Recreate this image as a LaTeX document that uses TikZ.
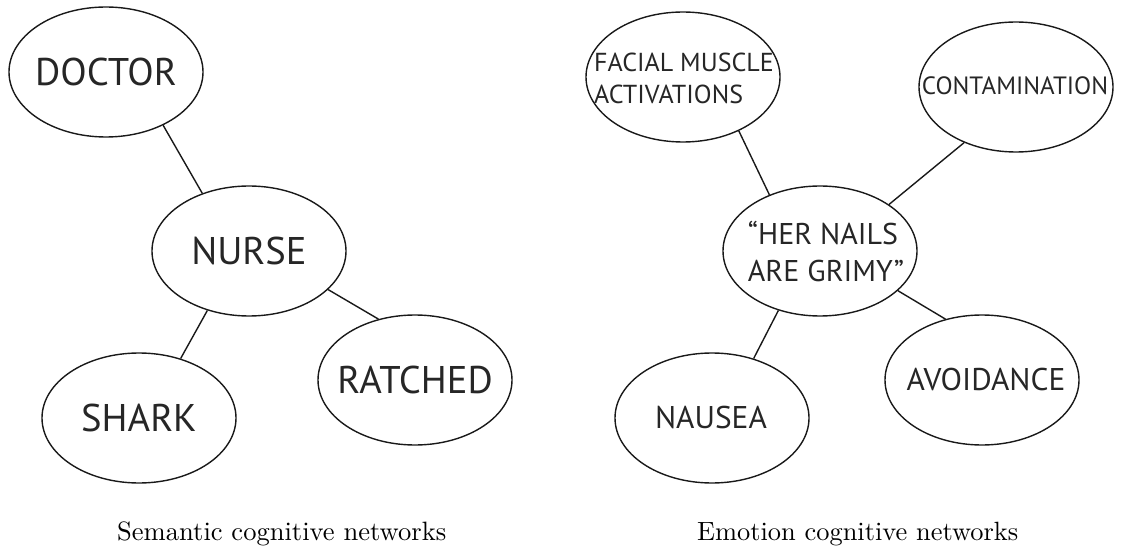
\documentclass[tikz,border=0pt]{standalone}
\usepackage{fontspec}
\usepackage{graphicx}
\newfontfamily\netfont{PT Sans}
\usetikzlibrary{shapes.geometric}
\tikzset{
  bubble/.style={draw=black!90, ellipse, line width=1.4pt, inner sep=0pt,
    minimum width=194pt, minimum height=130pt},
  big/.style={font=\netfont\fontsize{38.6}{46}\selectfont, inner sep=0pt, text=black!85},
  mid/.style={font=\netfont\fontsize{31.4}{38}\selectfont, inner sep=0pt, text=black!85},
  small/.style={font=\netfont\fontsize{26}{32}\selectfont, inner sep=0pt, text=black!85, align=left},
  link/.style={line width=1.4pt, draw=black!90},
  caption/.style={font=\fontsize{10}{12}\selectfont, inner sep=0pt, anchor=base west}
}
\begin{document}
\begin{tikzpicture}[x=1pt,y=-1pt]
\useasboundingbox (0,0) rectangle (1125,548);
% left network
\node[bubble] (doctor) at (106,72) {};
\node[bubble] (nurse) at (249,251) {};
\node[bubble] (shark) at (139,418) {};
\node[bubble] (ratched) at (415,380) {};
\node[big] (doctorT) at (doctor) {DOCTOR};
\node[big] (nurseT) at (nurse) {NURSE};
\node[big] (sharkT) at (shark) {SHARK};
\node[big] (ratchedT) at (ratched) {RATCHED};
\draw[link] (doctor.-43) -- (nurse.129);
\draw[link] (nurse.235) -- (shark.55);
\draw[link] (nurse.-26) -- (ratched.121);
% right network
\node[bubble] (facial) at (683,77) {};
\node[bubble] (contam) at (1016,87) {};
\node[bubble] (her) at (820,251) {};
\node[bubble] (nausea) at (712,418) {};
\node[bubble] (avoid) at (982,380) {};
\node[small] (facialT) at (684,78) {FACIAL MUSCLE\\ACTIVATIONS};
\node[font=\netfont\fontsize{25}{30}\selectfont, inner sep=0pt, text=black!85] (contamT) at (1015,86) {CONTAMINATION};
\node[font=\netfont\fontsize{30}{37}\selectfont, inner sep=0pt, text=black!85, align=left] (herT) at (826,252) {“HER NAILS\\ARE GRIMY”};
\node[mid] (nauseaT) at (711,418) {NAUSEA};
\node[mid] (avoidT) at (986,380) {AVOIDANCE};
\draw[link] (facial.-44) -- (her.132);
\draw[link] (contam.227) -- (her.34);
\draw[link] (her.235) -- (nausea.55);
\draw[link] (her.-27) -- (avoid.121);
% captions
\node[caption] (cap1) at (117,540) {\resizebox{329pt}{!}{Semantic cognitive networks}};
\node[caption] (cap2) at (697,540) {\resizebox{321pt}{!}{Emotion cognitive networks}};
\end{tikzpicture}
\end{document}
